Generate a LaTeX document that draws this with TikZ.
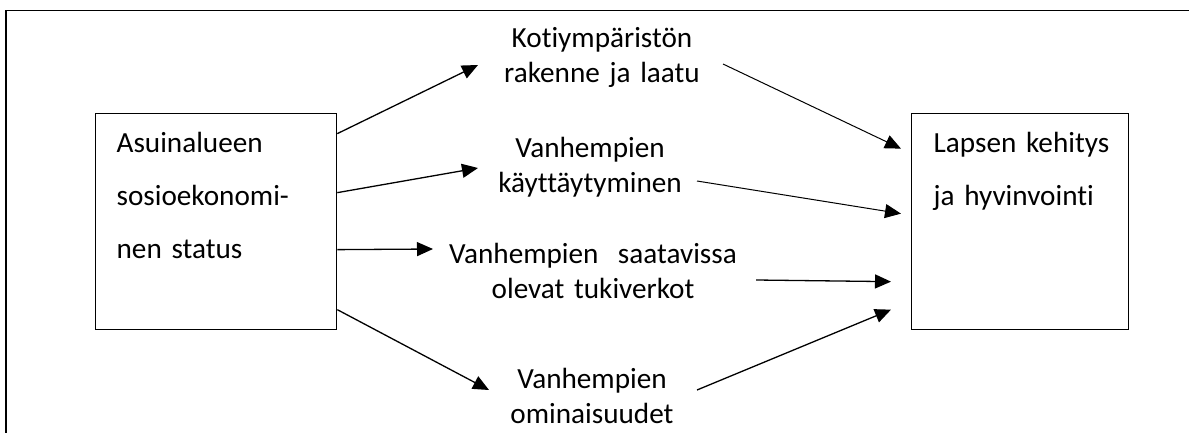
\documentclass[tikz,border=0pt]{standalone}
\usepackage{fontspec}
\setmainfont{Carlito}[Ligatures=NoCommon]
\usetikzlibrary{arrows.meta}

\begin{document}
\begin{tikzpicture}[
    x=0.5pt, y=-0.5pt,
    box/.style={draw, line width=0.65pt, anchor=north west, align=left, inner ysep=0pt, text height=19.5pt, text depth=88.5pt, font=\fontsize{14.6}{26.5}\selectfont},
    factor/.style={anchor=base, align=center, text width=150pt, inner sep=0pt, font=\fontsize{14.6}{17.5}\selectfont},
    arrow/.style={-{Triangle[length=8pt,width=7pt]}, line width=0.65pt},
    thinarrow/.style={arrow, line width=0.5pt}
]
\useasboundingbox (0,0) rectangle (1189,433);
% open frame: left and top sides only
\draw[line width=0.65pt] (6,433) -- (6,10.5) -- (1189,10.5);
\node[box, inner xsep=10.5pt, text width=99.5pt] (ses) at (95,113) {Asuinalueen\\sosioekonomi-\\nen status};
\node[box, inner xsep=11pt, text width=86.5pt] (lapsi) at (911,113) {\mbox{Lapsen kehitys}\\ja hyvinvointi};
\node[factor] (koti) at (602,48) {Kotiympäristön\\rakenne ja laatu};
\node[factor] (kay) at (590,157) {Vanhempien\\käyttäytyminen};
\node[factor] (tuki) at (593,263) {Vanhempien~ saatavissa\\olevat tukiverkot};
\node[factor] (omin) at (592,388) {Vanhempien\\ominaisuudet};
% from neighbourhood to the mediating factors
\draw[arrow] ([shift={(0,-88)}]ses.east) -- ([shift={(-124,17)}]koti.base);
\draw[arrow] ([shift={(0,-29)}]ses.east) -- ([shift={(-112,11)}]kay.base);
\draw[arrow] ([shift={(0,28)}]ses.east) -- ([shift={(-160,-14)}]tuki.base);
\draw[arrow] ([shift={(0,88)}]ses.east) -- ([shift={(-103,2)}]omin.base);
% from the mediating factors to the child
\draw[thinarrow] ([shift={(121,16)}]koti.base) -- ([shift={(-10,-73)}]lapsi.west);
\draw[thinarrow] ([shift={(107,24)}]kay.base) -- ([shift={(-10,-8)}]lapsi.west);
\draw[arrow] ([shift={(163,17)}]tuki.base) -- ([shift={(-20,60)}]lapsi.west);
\draw[arrow] ([shift={(105,2)}]omin.base) -- ([shift={(-20,88)}]lapsi.west);
\end{tikzpicture}
\end{document}
